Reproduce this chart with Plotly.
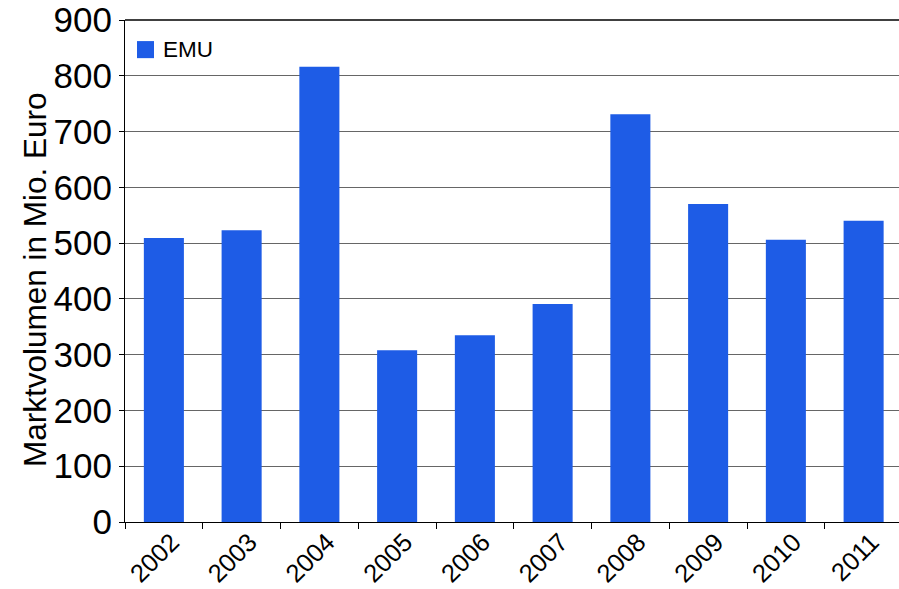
import plotly.graph_objects as go

years = ["2002", "2003", "2004", "2005", "2006", "2007", "2008", "2009", "2010", "2011"]
emu = [509, 523, 816, 308, 335, 391, 731, 570, 506, 540]
y_ticks = [0, 100, 200, 300, 400, 500, 600, 700, 800, 900]
series_name = "EMU"
y_title = "Marktvolumen in Mio. Euro"
bar_color = "#1e5ce6"

font = "Liberation Sans, Arial, sans-serif"

fig = go.Figure()
fig.add_trace(go.Bar(x=list(range(len(years))), y=emu, name=series_name,
                     marker=dict(color=bar_color, line=dict(width=0)),
                     width=0.515, showlegend=False))

fig.update_layout(
    width=899, height=589,
    margin=dict(l=125, r=0, t=20, b=67),
    plot_bgcolor="white", paper_bgcolor="white",
    font=dict(family=font, color="black"),
    showlegend=False,
)
fig.update_xaxes(
    range=[-0.5, 9.455], automargin=False,
    tickmode="array", tickvals=list(range(len(years))), ticktext=years,
    tickangle=-45, tickfont=dict(size=25.5, family=font),
    ticklabelshift=8, ticklabelstandoff=-6,
    showgrid=False, showline=True, linecolor="black", linewidth=1,
    ticks="", zeroline=False,
)
fig.update_xaxes(minor=dict(tickmode="array", tickvals=[i - 0.5 for i in range(len(years) + 1)],
                            ticks="outside", ticklen=6, tickcolor="black", showgrid=False))
fig.update_yaxes(
    range=[0, 900], tickmode="array", tickvals=y_ticks, automargin=False,
    tickfont=dict(size=35, family=font),
    showgrid=True, gridcolor="#666666", gridwidth=1,
    showline=True, linecolor="black", linewidth=1, mirror=False,
    ticks="outside", ticklen=5, tickcolor="black",
    zeroline=False,
)
# y axis title
fig.add_annotation(xref="paper", yref="paper", x=-0.1163, y=0.484, xanchor="center", yanchor="middle",
                   text=y_title, textangle=-90, showarrow=False,
                   font=dict(size=31.5, family=font, color="black"))
# top border line
fig.add_shape(type="line", xref="paper", yref="paper", x0=0, x1=1, y0=1, y1=1,
              line=dict(color="black", width=1.5))
# legend (manual)
fig.add_shape(type="rect", xref="paper", yref="paper", x0=0.0155, x1=0.0375, y0=0.924, y1=0.958,
              line=dict(width=0), fillcolor=bar_color)
fig.add_annotation(xref="paper", yref="paper", x=0.0465, y=0.941, xanchor="left", yanchor="middle",
                   text=series_name, showarrow=False, font=dict(size=22.5, family=font, color="black"))

fig.write_html("out.html")
